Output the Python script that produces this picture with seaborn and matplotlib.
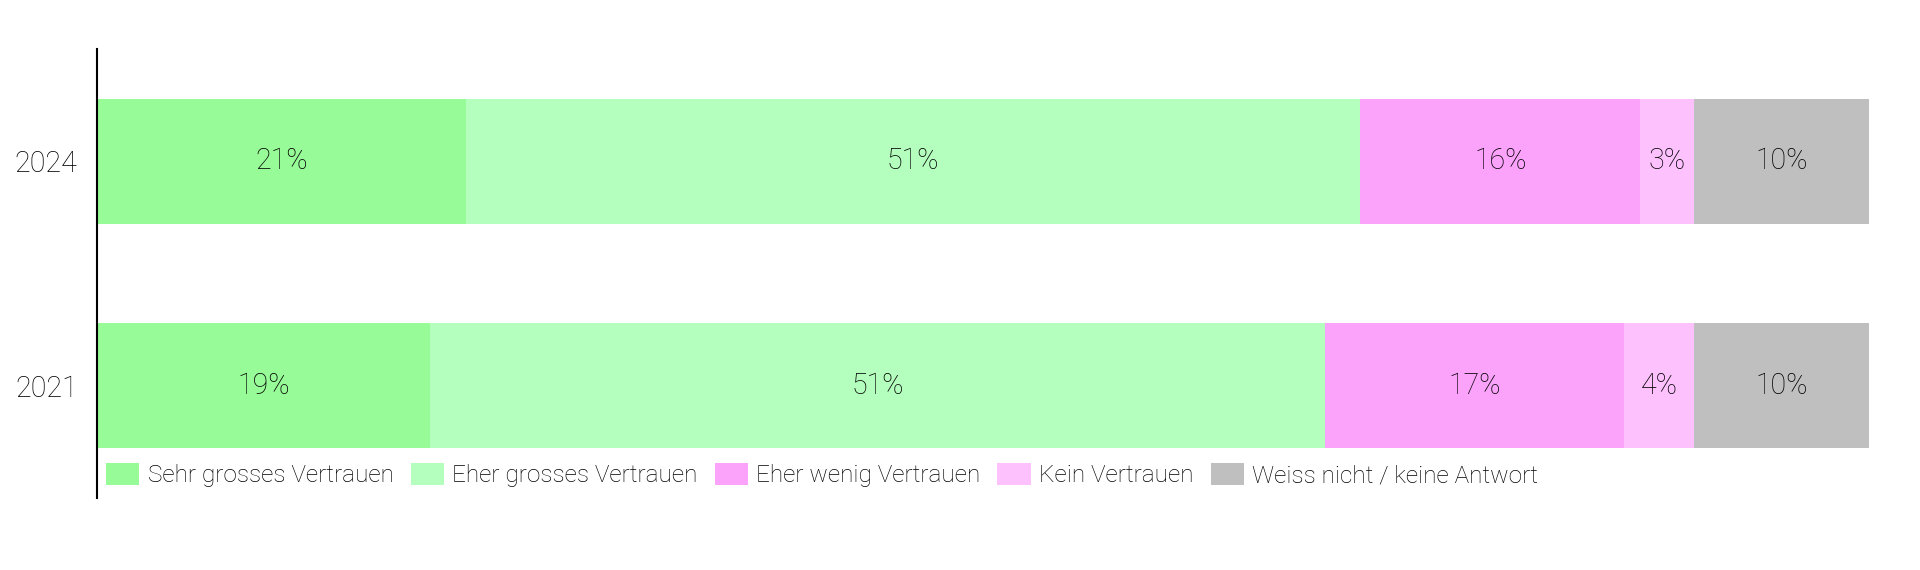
import matplotlib
matplotlib.use("Agg")
import matplotlib.pyplot as plt
import seaborn as sns
import pandas as pd
import numpy as np
from matplotlib.patches import Patch

years = ["2024", "2021"]
categories = ["Sehr grosses Vertrauen", "Eher grosses Vertrauen", "Eher wenig Vertrauen",
              "Kein Vertrauen", "Weiss nicht / keine Antwort"]
sehr_gross = [20.8, 18.8]
eher_gross = [50.5, 50.5]
eher_wenig = [15.8, 16.9]
kein = [3.0, 3.9]
weiss_nicht = [9.9, 9.9]
labels_2024 = ["21%", "51%", "16%", "3%", "10%"]
labels_2021 = ["19%", "51%", "17%", "4%", "10%"]
colors = ["#97FB97", "#B4FEBE", "#FBA2FB", "#FDC1FD", "#BFBFBF"]

sns.set_theme(style="white")
plt.rcParams['font.family'] = ['Roboto', 'DejaVu Sans']
plt.rcParams['text.color'] = 'black'

WEIGHT = "light"

series = [sehr_gross, eher_gross, eher_wenig, kein, weiss_nicht]
vals = np.array(series)  # shape (5, 2)
cum = np.cumsum(vals, axis=0)

fig = plt.figure(figsize=(19.2, 5.7), dpi=100)
ax = fig.add_axes([97/1920, 1-498/570, (1869-97)/1920, (498-49)/570])

# draw stacked bars from the outermost segment inwards
for i in range(len(categories) - 1, -1, -1):
    df = pd.DataFrame({"year": years, "value": cum[i]})
    sns.barplot(data=df, x="value", y="year", order=years, orient="h",
                color=colors[i], width=0.556, ax=ax, saturation=1, linewidth=0)

all_labels = [labels_2024, labels_2021]
for j in range(len(years)):
    for i in range(len(categories)):
        left = cum[i, j] - vals[i, j]
        ax.text(left + vals[i, j] / 2, j, all_labels[j][i], ha="center", va="center",
                fontsize=20.6, fontweight=WEIGHT, color="black")

ax.set_xlim(0, cum[-1].max())
ax.set_ylim(1.5, -0.5)
ax.set_xlabel("")
ax.set_ylabel("")
ax.set_xticks([])
ax.tick_params(axis="y", length=0, labelsize=20.6, pad=14, labelcolor="black")
for lab in ax.get_yticklabels():
    lab.set_fontweight(WEIGHT)
for s in ["top", "right", "bottom"]:
    ax.spines[s].set_visible(False)
ax.spines["left"].set_color("black")
ax.spines["left"].set_linewidth(1.5)

handles = [Patch(facecolor=c, edgecolor="none") for c in colors]
leg = ax.legend(handles, categories, loc="center left", bbox_to_anchor=(106/1920, 1-475/570),
                bbox_transform=fig.transFigure, ncol=5, frameon=False, fontsize=17.6,
                handlelength=1.35, handleheight=1.0, handletextpad=0.35, columnspacing=0.7,
                borderpad=0, borderaxespad=0)
for t in leg.get_texts():
    t.set_fontweight(WEIGHT)
    t.set_color("black")

fig.savefig("out.png", dpi=100, facecolor="white")
